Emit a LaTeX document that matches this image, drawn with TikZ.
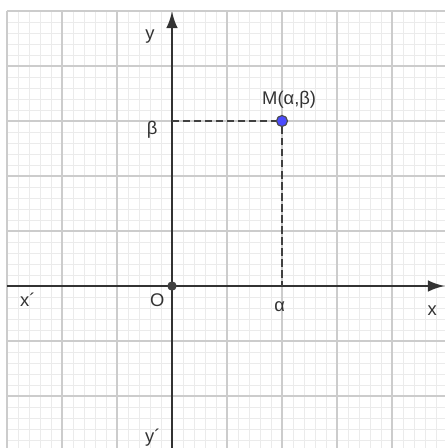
\documentclass[tikz,border=0pt]{standalone}
\usepackage{fontspec}
\setmainfont{Liberation Sans}
\usetikzlibrary{arrows.meta}
\begin{document}
\begin{tikzpicture}[every node/.style={font=\fontsize{9.5}{11}\selectfont, text=black!80},
  axis/.style={line width=1.4pt, draw=black!80, -{Latex[length=3.1mm,width=2.1mm]}},
  guide/.style={line width=1.4pt, draw=black!75, dash pattern=on 3.8pt off 1.9pt},
  dot/.style={circle, inner sep=0pt}]
\useasboundingbox (-3.127,-2.945) rectangle (4.964,5.2);
% grid
\draw[black!8, line width=0.45pt] (-3,-2.945) grid[step=0.2] (4.964,5);
\draw[black!20, line width=0.6pt] (-3,-2.945) grid[step=1] (4.964,5);
% axes
\coordinate (xl) at (-3,0);
\coordinate (xr) at (4.964,0);
\coordinate (yb) at (0,-2.945);
\coordinate (yt) at (0,5);
\draw[axis] (xl) -- (xr);
\draw[axis] (yb) -- (yt);
% point M and its projections
\coordinate (b) at (0,3);
\coordinate (a) at (2,0);
\node[dot, fill=blue!70, draw=black!70, line width=0.6pt, minimum size=0.2cm] (M) at (2,3) {};
\draw[guide] (b) -- (M);
\draw[guide] (M) -- (a);
\node[dot, fill=black!75, minimum size=0.17cm] (O) at (0,0) {};
% labels
\node (ylab) at (-0.4,4.53) {y};
\node (blab) at (-0.36,2.84) {β};
\node (Mlab) at (2.13,3.38) {M(α,β)};
\node (alab) at (1.96,-0.38) {α};
\node (xlab) at (4.73,-0.45) {x};
\node (xplab) at (-2.62,-0.25) {x´};
\node (Olab) at (-0.27,-0.25) {O};
\node (yplab) at (-0.35,-2.75) {y´};
\end{tikzpicture}
\end{document}
